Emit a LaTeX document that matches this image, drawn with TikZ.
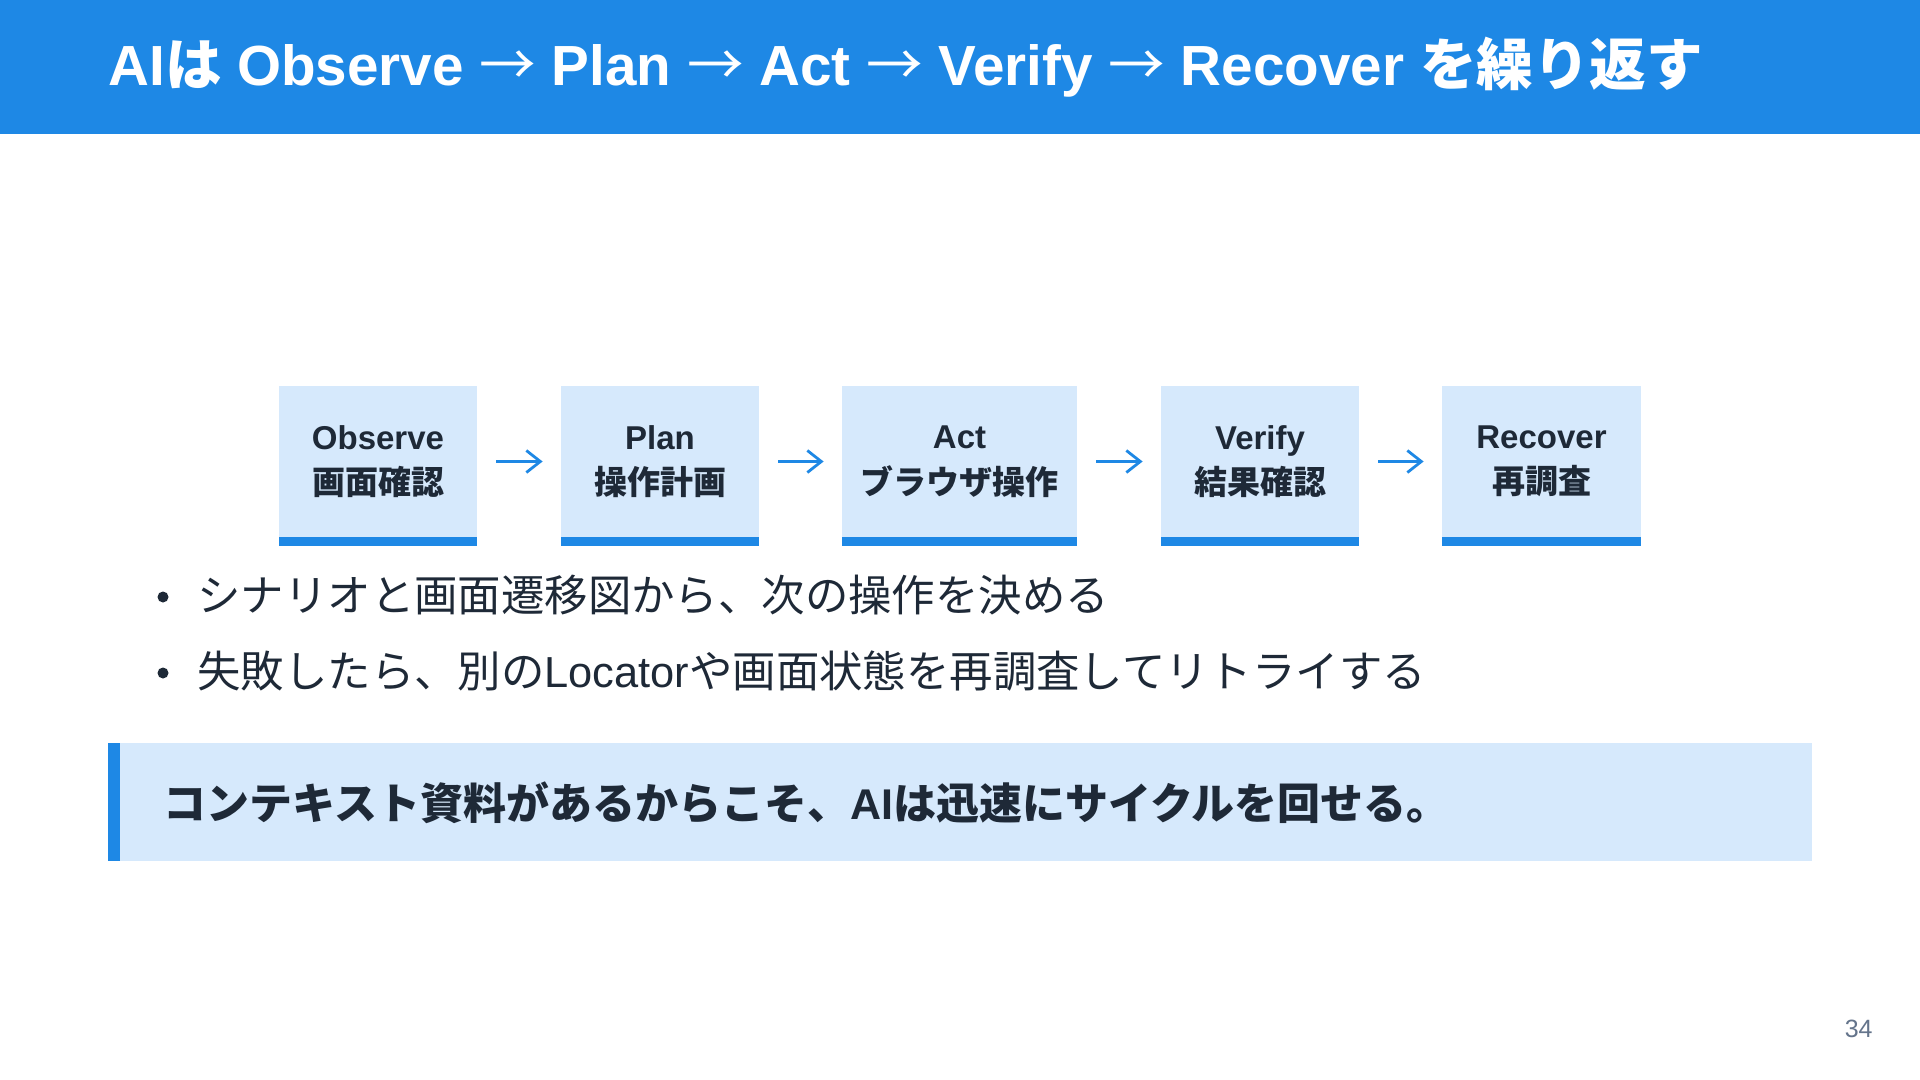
\documentclass[tikz,border=0pt]{standalone}
\usepackage{fontspec}
\setmainfont{Liberation Sans}
\newfontfamily\jpfont{Noto Sans CJK JP}
\newcommand\J[1]{{\jpfont #1}}
\newcommand\TA{{\mdseries\jpfont →}}
\usetikzlibrary{arrows.meta}
\definecolor{barblue}{HTML}{1E88E5}
\definecolor{boxfill}{HTML}{D6E9FC}
\definecolor{ink}{HTML}{1E2937}
\definecolor{pagegray}{HTML}{64748B}
\begin{document}
\begin{tikzpicture}[x=0.5pt,y=-0.5pt,
  stepbox/.style={fill=boxfill, minimum height=75.5pt, inner sep=0pt, align=center,
    text=ink, font=\fontsize{16.5}{22.75}\selectfont\bfseries},
  flow/.style={draw=barblue, line width=1.4pt, -{Straight Barb[length=7pt,width=11pt,line width=1.4pt]},
    shorten <=9.5pt, shorten >=9pt},
  bullettext/.style={anchor=west, inner sep=0pt, text=ink, font=\fontsize{21.7}{25}\selectfont},
  bulletdot/.style={fill=ink, circle, inner sep=0pt, minimum size=5.5pt}
]
\useasboundingbox (0,0) rectangle (1920,1080);
\fill[white] (0,0) rectangle (1920,1080);
% title bar
\fill[barblue] (0,0) rectangle (1920,134);
\node[anchor=west, inner sep=0pt, text=white, font=\fontsize{28.3}{32}\selectfont\bfseries] (title) at (108,67)
  {AI\J{は} Observe \TA{} Plan \TA{} Act \TA{} Verify \TA{} Recover \J{を繰り返す}};
% step boxes
\node[stepbox, minimum width=99pt]   (b1) at (378,461.5)   {Observe\\\J{画面確認}};
\node[stepbox, minimum width=99pt]   (b2) at (660,461.5)   {Plan\\\J{操作計画}};
\node[stepbox, minimum width=117.5pt] (b3) at (959.5,461.5) {Act\\\J{ブラウザ操作}};
\node[stepbox, minimum width=99pt]   (b4) at (1260,461.5)  {Verify\\\J{結果確認}};
\node[stepbox, minimum width=99.5pt] (b5) at (1541.5,461.5) {Recover\\\J{再調査}};
\foreach \b in {b1,b2,b3,b4,b5}
  \fill[barblue] (\b.south west) rectangle ([yshift=-4.5pt]\b.south east);
\draw[flow] (b1) -- (b2);
\draw[flow] (b2) -- (b3);
\draw[flow] (b3) -- (b4);
\draw[flow] (b4) -- (b5);
% bullets
\node[bulletdot] (d1) at (163,597) {};
\node[bullettext] (t1) at (197,595) {\J{シナリオと画面遷移図から、次の操作を決める}};
\node[bulletdot] (d2) at (163,673) {};
\node[bullettext] (t2) at (197,671) {\J{失敗したら、別の}Locator\J{や画面状態を再調査してリトライする}};
% callout
\fill[boxfill] (108,743) rectangle (1812,861);
\fill[barblue] (108,743) rectangle (120,861);
\node[anchor=west, inner sep=0pt, text=ink, font=\fontsize{21.5}{25}\selectfont\bfseries] (call) at (163,803)
  {\J{コンテキスト資料があるからこそ、}AI\J{は迅速にサイクルを回せる。}};
% page number
\node[anchor=east, inner sep=0pt, text=pagegray, font=\fontsize{12.5}{15}\selectfont] (pg) at (1873,1029) {34};
\end{tikzpicture}
\end{document}
